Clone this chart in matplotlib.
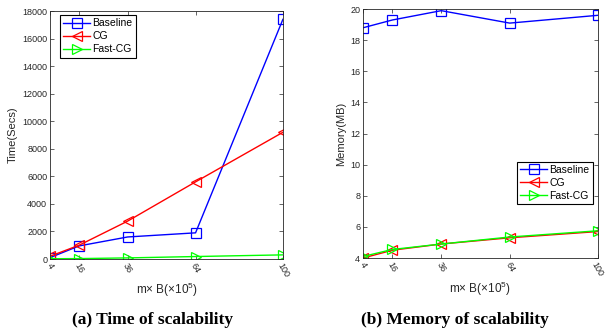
import matplotlib.pyplot as plt

# data
sizes = [4, 16, 36, 64, 100]
size_labels = ['4', '16', '36', '64', '100']

time_baseline = [100, 950, 1600, 1900, 17400]
time_cg = [200, 1000, 2750, 5600, 9200]
time_fastcg = [20, 30, 80, 180, 300]

mem_baseline = [18.8, 19.3, 19.9, 19.1, 19.6]
mem_cg = [4.0, 4.5, 4.9, 5.3, 5.7]
mem_fastcg = [4.1, 4.55, 4.9, 5.35, 5.75]

series_names = ['Baseline', 'CG', 'Fast-CG']

plt.rcParams['font.family'] = ['Liberation Sans', 'DejaVu Sans']
plt.rcParams['mathtext.fontset'] = 'custom'
plt.rcParams['mathtext.rm'] = 'Liberation Sans'

fig = plt.figure(figsize=(6.05, 3.31), dpi=100)
ax1 = fig.add_axes([0.0826, 0.2175, 0.385, 0.749])
ax2 = fig.add_axes([0.600, 0.2205, 0.388, 0.752])

styles = [('#0000ff', 's'), ('#ff0000', '<'), ('#00ff00', '>')]
gray = '#262626'


def draw(ax, data, ylim, yticks, ylabel, loc, anchor):
    for vals, name, (c, m) in zip(data, series_names, styles):
        ax.plot(sizes, vals, color=c, marker=m, markersize=6.5,
                markerfacecolor='none', markeredgewidth=0.9,
                linewidth=1.0, label=name)
    ax.set_xlim(4, 100)
    ax.set_ylim(*ylim)
    ax.set_xticks(sizes)
    ax.set_xticklabels(size_labels, rotation=-60, ha='center', va='top')
    ax.set_yticks(yticks)
    ax.tick_params(direction='in', length=3, width=0.5, labelsize=6.5,
                   colors=gray, top=True, right=True, pad=2)
    for s in ax.spines.values():
        s.set_color(gray)
        s.set_linewidth(0.6)
    ax.set_ylabel(ylabel, fontsize=8, color=gray, labelpad=3)
    ax.set_xlabel(r'm$\times$ B($\times$10$^5$)', fontsize=8.5, color=gray,
                  labelpad=1)
    leg = ax.legend(loc=loc, bbox_to_anchor=anchor, fontsize=7.5,
                    fancybox=False, framealpha=1, edgecolor='black',
                    handlelength=2.6, borderpad=0.3, labelspacing=0.3,
                    handletextpad=0.2, borderaxespad=0)
    leg.get_frame().set_linewidth(0.8)


draw(ax1, [time_baseline, time_cg, time_fastcg], (0, 18000),
     range(0, 18001, 2000), 'Time(Secs)', 'upper left', (0.043, 0.984))
draw(ax2, [mem_baseline, mem_cg, mem_fastcg], (4, 20),
     range(4, 21, 2), 'Memory(MB)', 'lower right', (0.979, 0.217))

fig.text(0.252, 0.02, '(a) Time of scalability', ha='center',
         fontsize=12.5, fontweight='bold', family='Liberation Serif')
fig.text(0.752, 0.02, '(b) Memory of scalability', ha='center',
         fontsize=12.5, fontweight='bold', family='Liberation Serif')

fig.savefig('out.png', dpi=100)
